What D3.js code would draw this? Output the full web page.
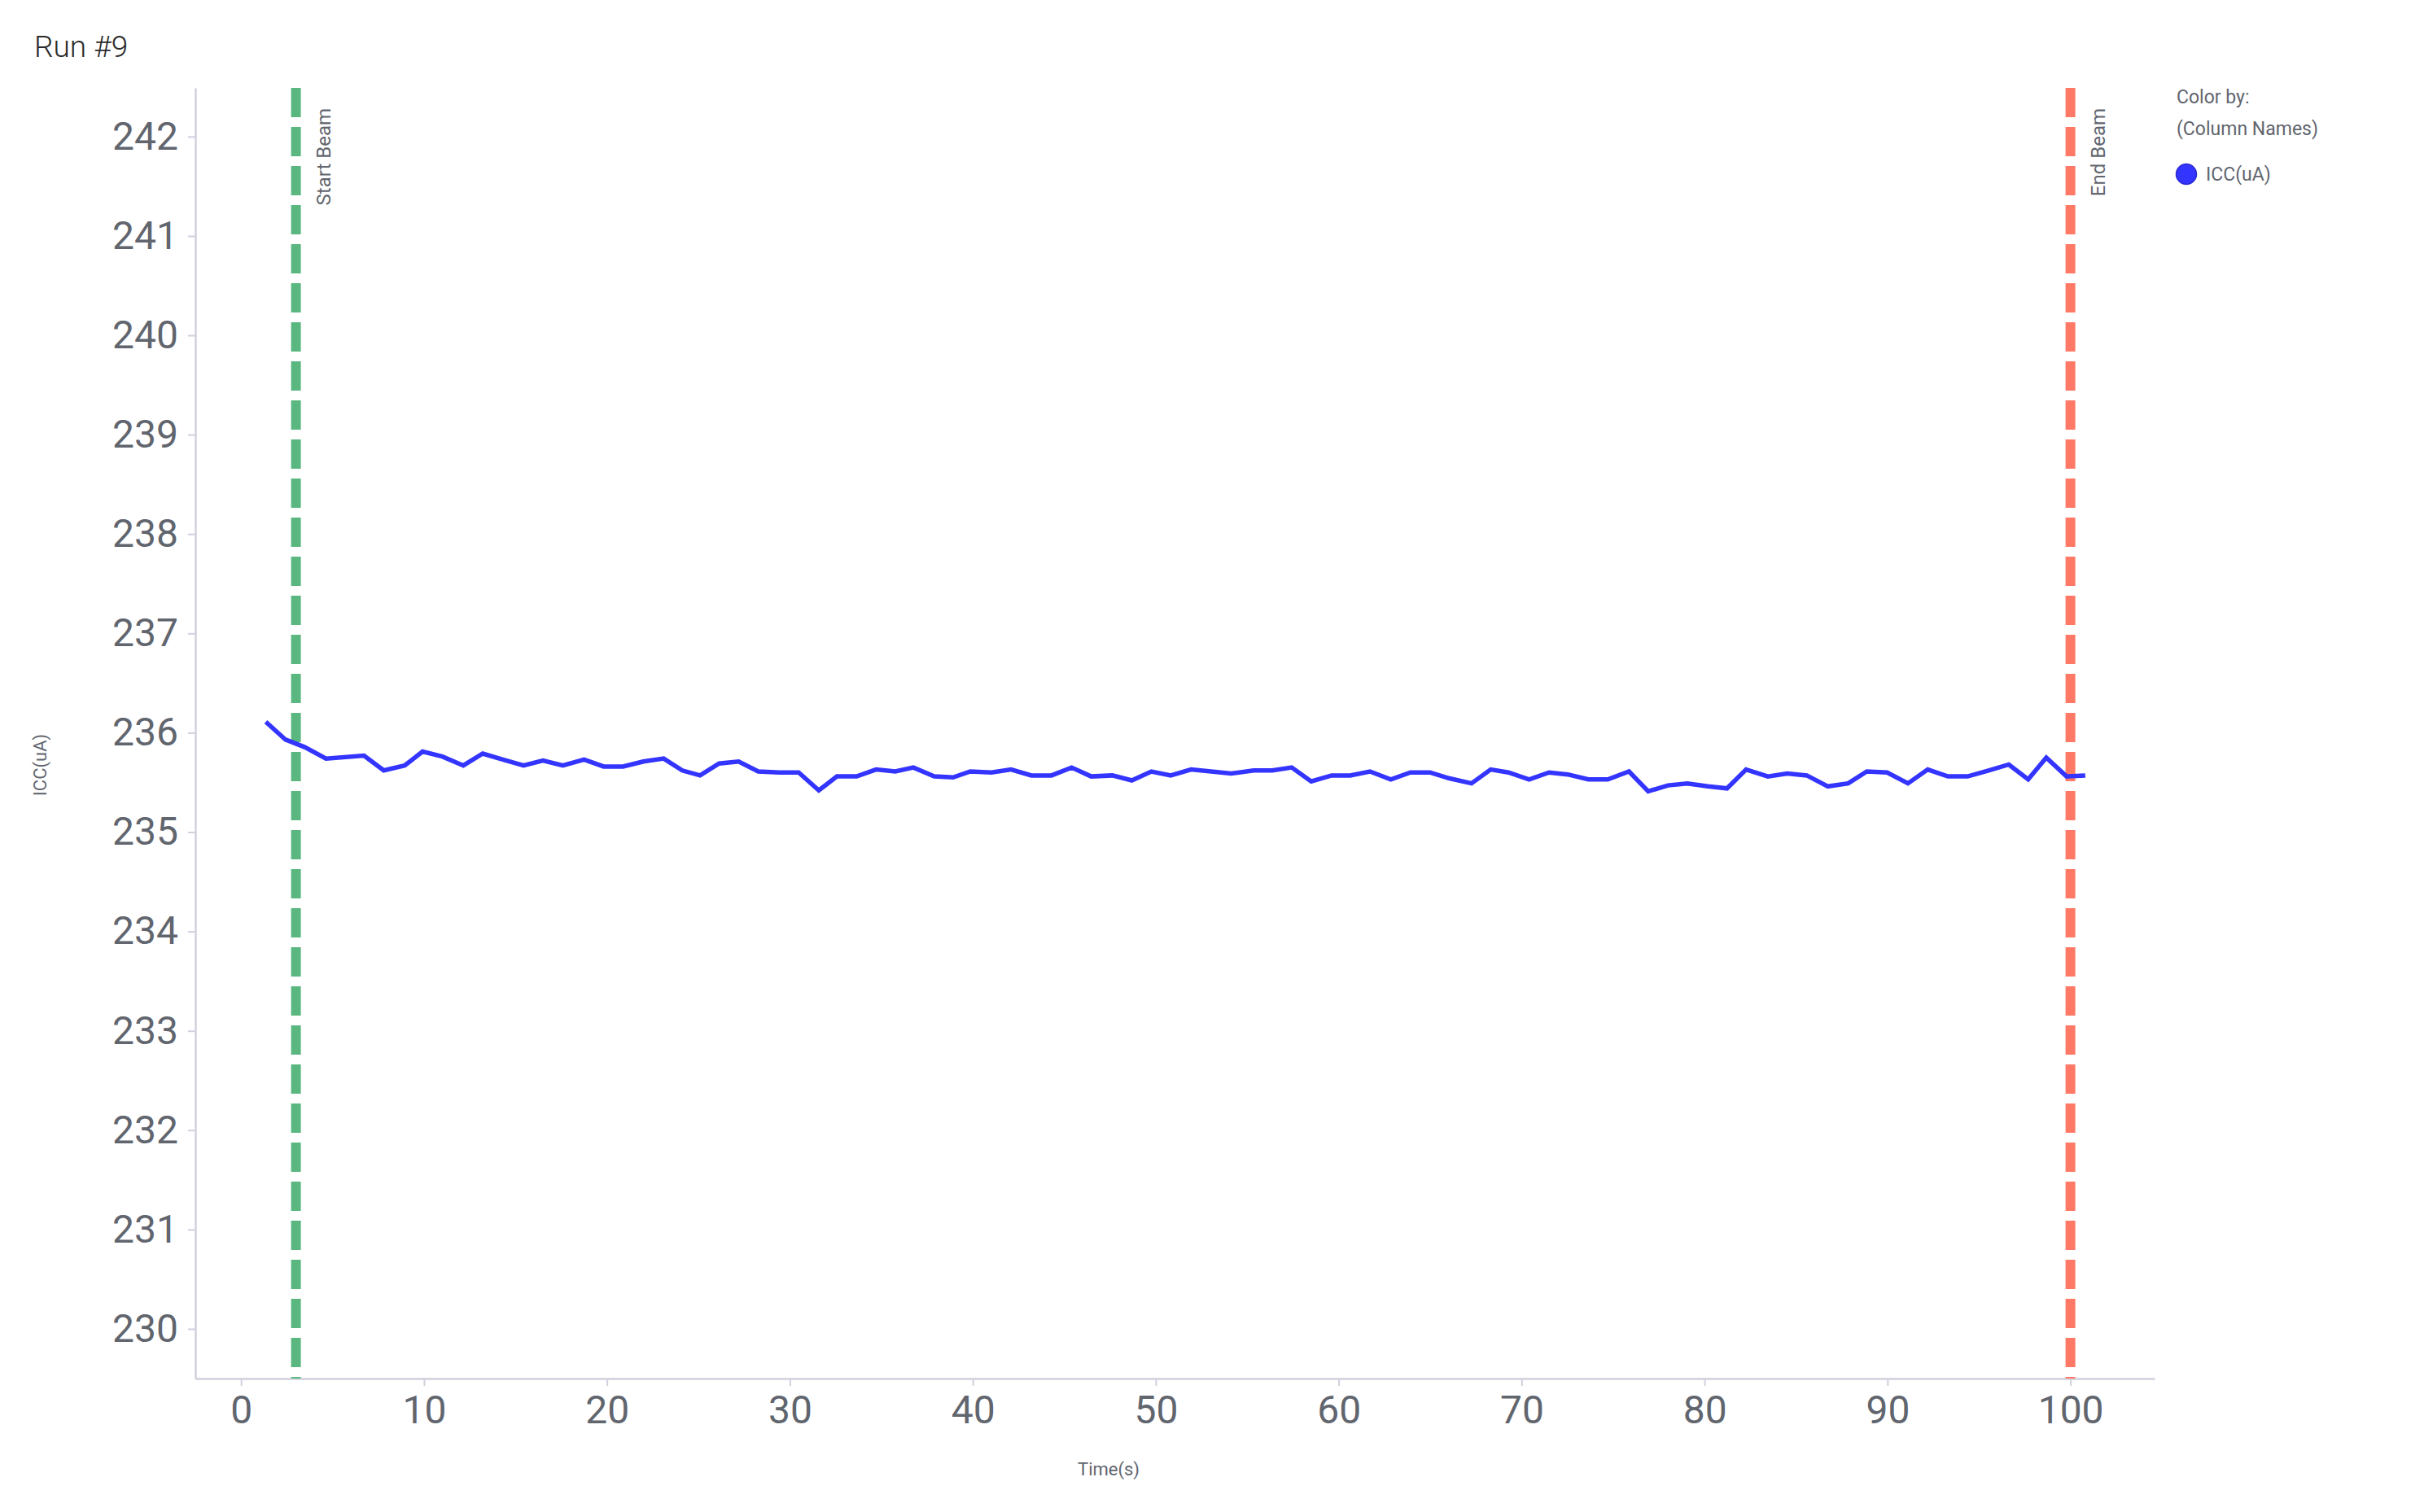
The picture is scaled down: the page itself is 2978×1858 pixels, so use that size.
<!DOCTYPE html>
<html>
<head>
<meta charset="utf-8">
<script src="https://cdn.jsdelivr.net/npm/d3@7"></script>
<style>
  body { margin: 0; background: #fff; }
  svg { display: block; font-family: Roboto, "Noto Sans", sans-serif; }
</style>
</head>
<body>
<div id="chart"></div>
<script>
// ICC(uA) readings over time for run #9
var times = [1.35, 2.43, 3.48, 4.64, 6.72, 7.80, 8.94, 9.92, 11.0, 12.15,
    13.21, 14.31, 15.44, 16.5, 17.59, 18.75, 19.82, 20.88, 21.99, 23.1,
    24.12, 25.09, 26.13, 27.2, 28.27, 29.42, 30.48, 31.58, 32.57, 33.65,
    34.71, 35.76, 36.75, 37.89, 38.92, 39.86, 41.02, 42.09, 43.2, 44.3,
    45.4, 46.47, 47.63, 48.69, 49.76, 50.82, 51.93, 54.12, 55.35, 56.37,
    57.43, 58.5, 59.61, 60.63, 61.71, 62.85, 63.92, 64.99, 66.06, 67.26,
    68.31, 69.28, 70.41, 71.5, 72.52, 73.65, 74.71, 75.87, 76.92, 78.0,
    79.06, 80.17, 81.23, 82.27, 83.46, 84.52, 85.59, 86.74, 87.85, 88.87,
    89.98, 91.12, 92.2, 93.3, 94.38, 95.52, 96.63, 97.69, 98.68, 99.79,
    100.81];
var icc = [236.11, 235.93, 235.855, 235.74, 235.77, 235.62, 235.67, 235.81, 235.76, 235.67,
    235.79, 235.73, 235.67, 235.72, 235.67, 235.73, 235.66, 235.66, 235.71, 235.74,
    235.62, 235.57, 235.69, 235.71, 235.61, 235.60, 235.60, 235.42, 235.56, 235.56,
    235.63, 235.61, 235.65, 235.56, 235.55, 235.61, 235.60, 235.63, 235.57, 235.57,
    235.65, 235.56, 235.57, 235.52, 235.61, 235.57, 235.63, 235.59, 235.62, 235.62,
    235.65, 235.51, 235.57, 235.57, 235.61, 235.53, 235.60, 235.60, 235.54, 235.49,
    235.63, 235.60, 235.53, 235.60, 235.58, 235.53, 235.53, 235.61, 235.41, 235.47,
    235.49, 235.46, 235.44, 235.63, 235.56, 235.59, 235.57, 235.46, 235.49, 235.61,
    235.60, 235.49, 235.63, 235.56, 235.56, 235.62, 235.68, 235.53, 235.75, 235.56,
    235.57];

// reference lines
var markerNames = ['Start Beam', 'End Beam'];
var markerTimes = [3, 100];
var markerColors = ['#59b77f', '#ff7966'];

var xTicks = [0, 10, 20, 30, 40, 50, 60, 70, 80, 90, 100];
var yTicks = [230, 231, 232, 233, 234, 235, 236, 237, 238, 239, 240, 241, 242];

var W = 2978, H = 1858;
var margin = { top: 108, right: 331, bottom: 164, left: 240 };

var svg = d3.select('#chart').append('svg')
    .attr('width', W)
    .attr('height', H);

var x = d3.scaleLinear().domain([-2.5, 104.6]).range([margin.left, W - margin.right]);
var y = d3.scaleLinear().domain([229.5, 242.49]).range([H - margin.bottom, margin.top]);

var textCol = '#61656e';
var axisCol = '#d0d1de';

// title
svg.append('text')
    .attr('x', 42)
    .attr('y', 70)
    .style('font-size', '37px')
    .style('font-weight', 300)
    .style('fill', '#2b2b2b')
    .text('Run #9');

// axes
var xAxis = svg.append('g')
    .attr('transform', 'translate(0,' + (H - margin.bottom) + ')')
    .call(d3.axisBottom(x).tickValues(xTicks).tickSize(9).tickPadding(12).tickSizeOuter(0));
var yAxis = svg.append('g')
    .attr('transform', 'translate(' + margin.left + ',0)')
    .call(d3.axisLeft(y).tickValues(yTicks).tickSize(9).tickPadding(12).tickSizeOuter(0));

[xAxis, yAxis].forEach(function(ax) {
    ax.select('.domain').attr('stroke', axisCol).attr('stroke-width', 2.5);
    ax.selectAll('.tick line').attr('stroke', axisCol).attr('stroke-width', 2);
    ax.selectAll('.tick text')
        .style('font-family', 'Roboto, sans-serif')
        .style('font-size', '48px')
        .style('fill', textCol);
});

// axis titles
svg.append('text')
    .attr('x', 1362)
    .attr('y', 1813)
    .attr('text-anchor', 'middle')
    .style('font-size', '22px')
    .style('fill', textCol)
    .text('Time(s)');

svg.append('text')
    .attr('transform', 'translate(57,940) rotate(-90)')
    .attr('text-anchor', 'middle')
    .style('font-size', '22px')
    .style('fill', textCol)
    .text('ICC(uA)');

// dashed start / end markers
markerTimes.forEach(function(t, i) {
    svg.append('line')
        .attr('x1', x(t)).attr('x2', x(t))
        .attr('y1', margin.top).attr('y2', H - margin.bottom)
        .attr('stroke', markerColors[i])
        .attr('stroke-width', 12)
        .attr('stroke-dasharray', '36,12');
    svg.append('text')
        .attr('transform', 'translate(' + (x(t) + 42) + ',' + (margin.top + 25) + ') rotate(-90)')
        .attr('text-anchor', 'end')
        .style('font-size', '24px')
        .style('fill', textCol)
        .text(markerNames[i]);
});

// the series line
var pts = times.map(function(t, i) { return [t, icc[i]]; });
var line = d3.line()
    .x(function(d) { return x(d[0]); })
    .y(function(d) { return y(d[1]); });

svg.append('path')
    .datum(pts)
    .attr('d', line)
    .attr('fill', 'none')
    .attr('stroke', '#3434ff')
    .attr('stroke-width', 5.5)
    .attr('stroke-linejoin', 'miter');

// legend
var lg = svg.append('g').attr('transform', 'translate(2674,0)');
lg.append('text').attr('x', 0).attr('y', 127)
    .style('font-size', '23px').style('fill', textCol).text('Color by:');
lg.append('text').attr('x', 0).attr('y', 166)
    .style('font-size', '23px').style('fill', textCol).text('(Column Names)');
lg.append('circle').attr('cx', 12).attr('cy', 214).attr('r', 12.5)
    .attr('fill', '#3434ff').attr('stroke', '#2a2ad0').attr('stroke-width', 1.5);
lg.append('text').attr('x', 36).attr('y', 222)
    .style('font-size', '23px').style('fill', textCol).text('ICC(uA)');
</script>
</body>
</html>
